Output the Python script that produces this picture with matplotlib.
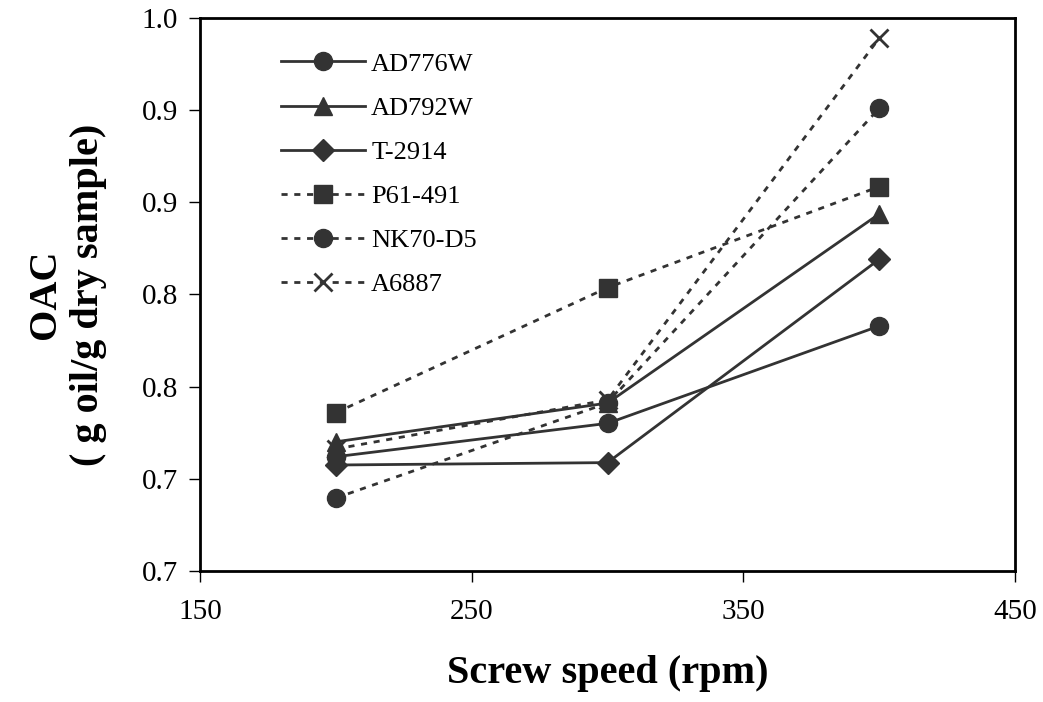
import numpy as np
import matplotlib.pyplot as plt

# screw speed (rpm)
speed = [200, 300, 400]

# OAC values per sample (g oil/g dry sample)
ad776w = [0.7620, 0.7801, 0.8329]
ad792w = [0.7701, 0.7911, 0.8937]
t2914 = [0.7575, 0.7588, 0.8691]
p61_491 = [0.7859, 0.8537, 0.9085]
nk70_d5 = [0.7396, 0.7911, 0.9510]
a6887 = [0.7662, 0.7928, 0.9890]

ytick_vals = [0.70, 0.75, 0.80, 0.85, 0.90, 0.95, 1.00]
ytick_labels = ["0.7", "0.7", "0.8", "0.8", "0.9", "0.9", "1.0"]
xtick_vals = [150, 250, 350, 450]

plt.rcParams['font.family'] = ['Liberation Serif', 'DejaVu Serif']

fig = plt.figure(figsize=(10.43, 7.02), dpi=100)
ax = fig.add_axes([0.1918, 0.1866, 0.7814, 0.7878])

col = '#333333'
ms = 13
dash = (2.2, 2.4)
ax.plot(speed, ad776w, '-', color=col, lw=2, marker='o', ms=ms, label='AD776W')
ax.plot(speed, ad792w, '-', color=col, lw=2, marker='^', ms=ms, label='AD792W')
ax.plot(speed, t2914, '-', color=col, lw=2, marker='D', ms=11.5, label='T-2914')
ax.plot(speed, p61_491, '--', color=col, lw=2, dashes=dash, marker='s', ms=ms, label='P61-491')
ax.plot(speed, nk70_d5, '--', color=col, lw=2, dashes=dash, marker='o', ms=ms, label='NK70-D5')
ax.plot(speed, a6887, '--', color=col, lw=2, dashes=dash, marker='x', ms=ms, mew=2, label='A6887')

ax.set_xlim(150, 450)
ax.set_ylim(0.70, 1.00)
ax.set_xticks(xtick_vals)
ax.set_yticks(ytick_vals)
ax.set_yticklabels(ytick_labels)
ax.tick_params(direction='out', length=8, width=1, labelsize=21, pad=8)
ax.tick_params(axis='x', pad=12)
for s in ax.spines.values():
    s.set_linewidth(2)

ax.set_xlabel('Screw speed (rpm)', fontsize=29, fontweight='bold', labelpad=22)
ax.set_ylabel('OAC\n( g oil/g dry sample)', fontsize=29, fontweight='bold', labelpad=25)

leg = ax.legend(loc='upper left', bbox_to_anchor=(0.07, 0.981), frameon=False,
                fontsize=19, handlelength=3.2, handletextpad=0.22, labelspacing=0.78)

fig.savefig('out.png', dpi=100)
